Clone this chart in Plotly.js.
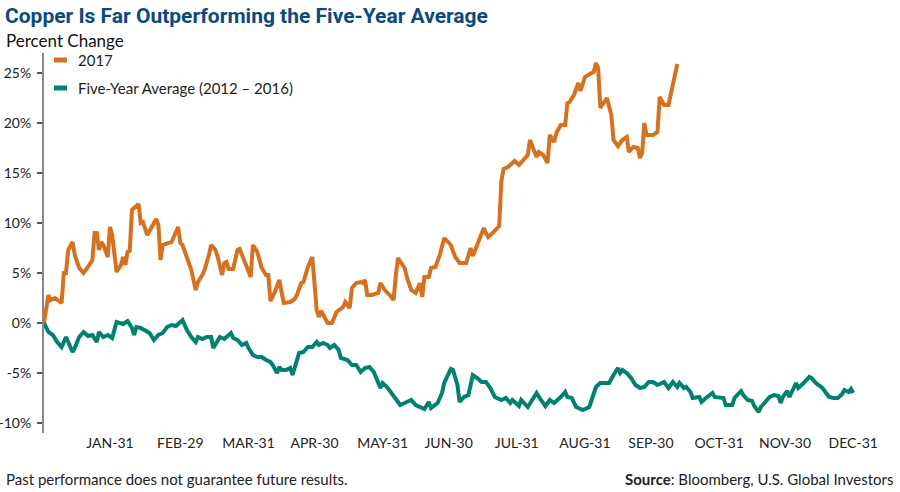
<!DOCTYPE html>
<html>
<head>
<meta charset="utf-8">
<script src="https://cdn.plot.ly/plotly-3.0.1.min.js"></script>
<style>html,body{margin:0;padding:0;background:#fff}#chart{width:900px;height:492px}</style>
</head>
<body>
<div id="chart"></div>
<script>
// x = day of year (2012 calendar), y = percent change
const days2017 = [-2,0,1,3,6,7,8,9,11,12,14,16,18,20,21,22,23,24,25,27,28,29,31,33,34,35,36,37,38,39,41,42,43,45,47,49,50,51,52,54,56,59,60,61,63,65,67,68,70,71,73,74,76,77,79,80,81,82,84,86,87,89,92,93,95,97,99,100,101,103,105,107,108,110,112,113,115,116,118,120,121,122,123,124,127,129,131,134,135,137,138,140,142,143,144,145,147,150,151,153,156,157,158,159,162,163,165,167,169,170,171,173,174,176,178,180,183,185,187,190,192,193,195,198,199,200,202,205,206,207,209,212,214,216,218,219,221,222,223,225,227,228,230,231,233,235,236,237,239,241,242,244,247,248,249,250,251,253,254,256,257,259,261,263,264,266,268,269,270,271,272,275,277,278,280,282,286];
const pct2017 = [0.0,2.8,2.3,2.5,2.0,5.0,5.0,7.3,8.1,6.8,5.5,5.0,5.6,6.3,9.0,9.0,7.3,8.1,7.8,6.6,9.6,8.8,5.1,5.8,6.6,5.8,7.1,7.2,11.3,11.5,11.9,10.0,10.1,8.8,9.6,10.4,9.8,6.3,7.8,8.0,8.1,9.6,8.0,7.8,6.6,5.3,3.3,4.1,4.8,5.3,6.8,7.8,7.3,6.6,4.8,6.0,6.1,5.4,5.4,7.3,7.4,6.3,4.6,7.8,7.1,5.5,4.8,4.8,2.2,3.1,4.3,2.0,2.0,2.1,2.4,2.8,4.0,4.1,5.6,6.6,4.0,1.3,0.6,1.2,0.0,0.0,1.1,1.6,2.1,1.5,3.5,4.0,4.1,4.0,4.3,2.8,2.8,3.0,4.0,3.3,2.6,2.3,4.8,6.5,5.5,4.6,3.3,3.0,4.0,2.6,4.6,4.6,5.5,5.6,6.8,8.5,7.8,6.6,6.0,6.0,7.5,6.7,7.8,9.5,9.0,8.6,9.0,9.7,14.2,15.4,15.6,16.2,15.8,16.3,16.8,18.3,17.1,16.6,17.1,16.8,16.0,18.8,18.1,19.0,19.8,19.8,22.0,22.1,22.8,24.0,23.2,24.6,25.0,25.1,26.0,25.5,21.5,22.1,22.5,20.8,18.3,17.7,18.3,18.6,17.1,17.6,17.5,16.5,17.0,20.0,18.8,18.8,19.1,22.6,21.8,21.8,25.9];

const daysAvg = [-2,0,2,4,6,8,9,11,12,14,16,18,20,22,23,25,27,29,31,33,34,36,38,39,40,42,45,46,48,50,52,54,56,58,61,62,63,65,67,68,70,72,74,75,77,78,80,83,84,86,88,90,91,93,95,97,99,101,102,104,105,106,108,110,111,113,114,116,118,120,122,123,125,127,128,130,132,133,136,138,140,142,144,146,148,151,152,154,156,158,160,162,165,167,169,171,173,174,177,179,180,183,184,186,187,189,191,192,193,195,197,199,201,203,206,208,210,211,214,215,218,220,222,224,226,228,230,233,235,236,238,240,243,246,247,249,251,253,255,257,259,260,261,263,265,267,269,271,273,275,277,279,280,282,284,286,287,289,290,292,293,296,297,299,302,303,305,307,308,311,312,315,316,318,320,321,323,324,326,328,330,332,333,334,336,337,340,341,343,346,347,349,352,353,355,357,359,361,362,364,365,366];
const pctAvg = [0.0,-0.9,-1.2,-1.9,-2.4,-1.4,-1.9,-2.9,-2.5,-1.4,-0.9,-1.3,-1.2,-1.9,-0.9,-1.4,-1.2,-1.5,0.1,0.0,-0.1,0.2,-0.5,-1.2,-0.4,-0.5,-0.9,-1.0,-1.7,-1.2,-1.0,-0.4,-0.2,-0.3,0.3,-0.2,-0.7,-1.4,-1.9,-1.4,-1.6,-1.4,-1.4,-2.5,-1.7,-1.4,-1.6,-1.0,-1.5,-1.7,-2.2,-2.0,-2.5,-3.2,-3.4,-3.4,-3.7,-3.9,-4.2,-5.0,-4.4,-4.7,-4.7,-4.5,-5.2,-3.5,-3.0,-2.9,-2.4,-2.4,-1.9,-2.2,-2.0,-2.2,-2.5,-2.2,-2.7,-3.5,-3.7,-4.2,-4.2,-4.9,-4.5,-4.4,-4.9,-6.5,-6.0,-6.4,-7.0,-7.7,-8.2,-8.0,-7.7,-8.2,-8.4,-8.6,-7.9,-8.5,-8.0,-7.0,-6.0,-4.6,-4.7,-6.2,-7.9,-7.4,-7.2,-6.0,-5.2,-5.5,-5.9,-5.9,-6.5,-7.4,-7.7,-7.5,-8.0,-7.7,-8.3,-7.7,-8.4,-7.7,-7.0,-7.7,-8.3,-7.7,-8.0,-7.4,-6.9,-7.4,-7.5,-8.4,-8.7,-8.4,-7.7,-6.4,-6.0,-6.0,-6.0,-5.2,-4.5,-5.0,-4.7,-5.0,-5.5,-6.2,-6.5,-6.4,-5.9,-5.9,-6.2,-6.0,-5.9,-6.5,-5.9,-6.4,-6.0,-6.5,-6.4,-6.9,-7.5,-7.4,-7.9,-7.5,-7.0,-7.4,-7.4,-7.5,-8.2,-8.2,-7.5,-6.8,-7.2,-7.7,-7.8,-8.3,-8.9,-8.4,-7.9,-7.4,-7.2,-7.3,-8.0,-7.4,-6.8,-7.4,-6.0,-6.5,-6.1,-5.4,-5.5,-6.0,-6.5,-6.8,-7.4,-7.5,-7.5,-7.1,-6.7,-6.9,-6.6,-7.0];

const monthTickDays = [28, 60, 91, 121, 152, 182, 213, 244, 274, 305, 335, 366];
const monthTickLabels = ['JAN-31','FEB-29','MAR-31','APR-30','MAY-31','JUN-30','JUL-31','AUG-31','SEP-30','OCT-31','NOV-30','DEC-31'];
const yTickVals = [-10, -5, 0, 5, 10, 15, 20, 25];
const yTickLabels = ['-10%','-5%','0%','5%','10%','15%','20%','25%'];
const seriesNames = ['2017', 'Five-Year Average (2012 – 2016)'];
const seriesColors = ['#D5711F', '#00826E'];

const yMin = -11, yMax = 27;
const FONT = 'Lato, Roboto, sans-serif';

const traces = [
  {x: days2017, y: pct2017, type: 'scatter', mode: 'lines', name: seriesNames[0],
   line: {color: seriesColors[0], width: 4, shape: 'linear'}, hoverinfo: 'skip'},
  {x: daysAvg, y: pctAvg, type: 'scatter', mode: 'lines', name: seriesNames[1],
   line: {color: seriesColors[1], width: 4, shape: 'linear'}, hoverinfo: 'skip'}
];

const W = 900, H = 492, L = 44, R = 5, T = 53, B = 59;
const pw = W - L - R, ph = H - T - B;
const px = v => (v - L) / pw;
const py = v => (H - B - v) / ph;

const shapes = [];
const annotations = [];
const legendY = [60, 88];
seriesNames.forEach((nm, i) => {
  shapes.push({type: 'line', xref: 'paper', yref: 'paper', x0: px(54), x1: px(67), y0: py(legendY[i]), y1: py(legendY[i]),
    line: {color: seriesColors[i], width: 5}});
  annotations.push({xref: 'paper', yref: 'paper', x: px(76), y: py(legendY[i]), xanchor: 'left', yanchor: 'middle',
    text: nm, showarrow: false, font: {family: FONT, size: 15, color: '#222'}});
});
annotations.push({xref: 'paper', yref: 'paper', x: px(4), y: py(40), xanchor: 'left', yanchor: 'middle',
  text: 'Percent Change', showarrow: false, font: {family: FONT, size: 17, color: '#111'}});
annotations.push({xref: 'paper', yref: 'paper', x: px(4), y: py(479), xanchor: 'left', yanchor: 'middle',
  text: 'Past performance does not guarantee future results.', showarrow: false, font: {family: FONT, size: 15, color: '#222'}});
annotations.push({xref: 'paper', yref: 'paper', x: px(895), y: py(479), xanchor: 'right', yanchor: 'middle',
  text: '<b>Source</b>: Bloomberg, U.S. Global Investors', showarrow: false, font: {family: FONT, size: 15, color: '#222'}});

const layout = {
  width: W, height: H,
  margin: {l: L, r: R, t: T, b: B, pad: 0},
  paper_bgcolor: '#fff', plot_bgcolor: '#fff',
  showlegend: false,
  title: {text: '<b>Copper Is Far Outperforming the Five-Year Average</b>', xref: 'container', yref: 'container',
    x: 5 / W, xanchor: 'left', y: 1 - 16 / H, yanchor: 'middle',
    font: {family: "'Liberation Sans Narrow', Roboto, sans-serif", size: 21, color: '#0C4A7E'}},
  xaxis: {range: [-2, 385], tickvals: monthTickDays, ticktext: monthTickLabels, showgrid: false, zeroline: false,
    showline: false, ticks: '', tickfont: {family: FONT, size: 14, color: '#222'}, fixedrange: true},
  xaxis2: {overlaying: 'x', matches: 'x', anchor: 'free', position: (0 - yMin) / (yMax - yMin),
    tickvals: monthTickDays, showticklabels: false, showgrid: false, zeroline: false,
    showline: true, linecolor: '#222', linewidth: 1.5, ticks: 'outside', ticklen: 7, tickwidth: 1.5, tickcolor: '#222'},
  yaxis: {range: [yMin, yMax], tickvals: yTickVals, ticktext: yTickLabels, showgrid: false, zeroline: false,
    showline: true, linecolor: '#888', linewidth: 2, ticks: 'outside', ticklen: 5, tickwidth: 1.5, tickcolor: '#555',
    ticklabelstandoff: 3, tickfont: {family: FONT, size: 14, color: '#222'}, fixedrange: true},
  shapes: shapes,
  annotations: annotations
};

Plotly.newPlot('chart', traces, layout, {staticPlot: true, displayModeBar: false});
</script>
</body>
</html>
